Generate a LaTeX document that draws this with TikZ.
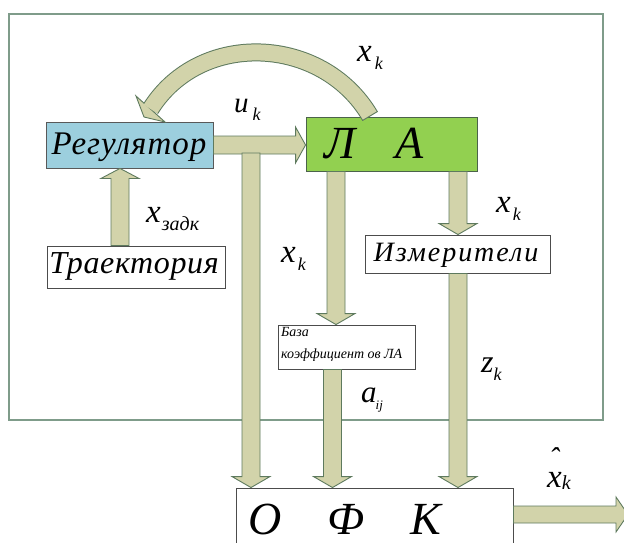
\documentclass[tikz,border=0pt]{standalone}
\usepackage{fontspec}
\setmainfont{Liberation Serif}[ItalicFont={Liberation Serif Italic}]
\usetikzlibrary{calc}
\definecolor{arrowfill}{HTML}{D2D3AA}
\definecolor{arrowline}{HTML}{5E7A5E}
\definecolor{framecol}{HTML}{7F9C8A}
\definecolor{regfill}{HTML}{9CCFDE}
\definecolor{lafill}{HTML}{92D050}
\tikzset{
  blockarrow/.style={fill=arrowfill, draw=arrowline, line width=0.9pt, line join=miter},
  boxbase/.style={line width=0.9pt, inner sep=0pt, font=\itshape},
  whitebox/.style={boxbase, draw=black!70, fill=white},
  regbox/.style={boxbase, draw=black!65, fill=regfill},
  labox/.style={boxbase, draw=arrowline!80!black, fill=lafill},
  txt/.style={inner sep=0pt, font=\itshape},
  lab/.style={inner sep=0pt, anchor=base west, font=\itshape},
}
% vertical block arrows: #1 x centre, #2 from, #3 to
\newcommand\downblock[3]{\path[blockarrow] let \p1=(#2), \p2=(#3) in
  (#1pt-9pt,\y1) -- (#1pt+9pt,\y1) -- (#1pt+9pt,\y2+11pt) -- (#1pt+19pt,\y2+11pt)
  -- (#1pt,\y2) -- (#1pt-19pt,\y2+11pt) -- (#1pt-9pt,\y2+11pt) -- cycle;}
\newcommand\upblock[3]{\path[blockarrow] let \p1=(#2), \p2=(#3) in
  (#1pt-9pt,\y1) -- (#1pt+9pt,\y1) -- (#1pt+9pt,\y2-10pt) -- (#1pt+19pt,\y2-10pt)
  -- (#1pt,\y2) -- (#1pt-19pt,\y2-10pt) -- (#1pt-9pt,\y2-10pt) -- cycle;}
% horizontal: #1 y centre (px, down), #2 from, #3 to, #4 half shaft, #5 half head, #6 head length
\newcommand\rightblock[6]{\path[blockarrow] let \p1=(#2), \p2=(#3) in
  (\x1,-#1pt+#4pt) -- (\x2-#6pt,-#1pt+#4pt) -- (\x2-#6pt,-#1pt+#5pt) -- (\x2,-#1pt)
  -- (\x2-#6pt,-#1pt-#5pt) -- (\x2-#6pt,-#1pt-#4pt) -- (\x1,-#1pt-#4pt) -- cycle;}
\newcommand\xlab[5]{{\fontsize{#1}{#1}\selectfont #2}\kern#5pt\raisebox{-8pt}{\fontsize{#3}{#3}\selectfont #4}}
\begin{document}
\begin{tikzpicture}[x=1pt,y=-1pt]
\useasboundingbox (0,0) rectangle (624,543);
\fill[white] (0,0) rectangle (624,543);
% frame
\node[draw=framecol, line width=1.6pt, minimum width=594, minimum height=406, inner sep=0pt] (frame) at (306,217) {};
% boxes
\node[regbox, minimum width=167, minimum height=46] (reg) at (129.5,145) {};
\node[labox, minimum width=171, minimum height=54] (la) at (391.5,144) {};
\node[whitebox, minimum width=178, minimum height=42] (traj) at (136,267) {};
\node[whitebox, minimum width=185, minimum height=38] (izm) at (457.5,254) {};
\node[whitebox, minimum width=137, minimum height=44] (baza) at (346.5,347) {};
\node[whitebox, minimum width=277, minimum height=82] (ofk) at (374.5,529) {};
% texts in boxes
\node[txt, anchor=base] (regt) at (129,154) {\fontsize{33}{33}\selectfont\addfontfeature{LetterSpace=3}Регулятор};
\node[txt, anchor=base] (trajt) at (134,273) {\fontsize{32}{32}\selectfont\addfontfeature{LetterSpace=2}Траектория};
\node[txt, anchor=base] (izmt) at (456,261) {\fontsize{28}{28}\selectfont\addfontfeature{LetterSpace=7}Измерители};
\node[txt, anchor=base west] (lat) at (324,158) {\fontsize{46}{46}\selectfont Л\kern40pt А};
\node[inner sep=0pt, anchor=north west, align=left, font={\itshape\fontsize{14}{22}\selectfont}] (bazat) at (281,327) {База\\коэффициент ов ЛА};
\node[txt, anchor=base west] (ofkt) at (248,534) {\fontsize{46}{46}\selectfont О\kern46pt Ф\kern46pt К};
% arrows
\upblock{120}{traj.north}{reg.south}
\rightblock{145}{reg.east}{la.west}{9}{18}{10}
\coordinate (split) at (251,153);
\downblock{251}{split}{ofk.north}
\downblock{336}{la.south}{baza.north}
\downblock{332.5}{baza.south}{ofk.north}
\downblock{458}{la.south}{izm.north}
\downblock{458}{izm.south}{ofk.north}
\coordinate (out) at (628,514.5);
\rightblock{514.5}{ofk.east}{out}{8.5}{17.5}{12}
% feedback arc
\coordinate (fbs) at (370,116);
\coordinate (fbe) at (150.5,109);
\draw[arrowline, line width=18pt] (fbs) .. controls (322,35) and (200,30) .. (fbe);
\path[blockarrow] (136,96) -- (165,122) -- (144,117) -- cycle;
\draw[arrowfill, line width=16pt] (fbs) .. controls (322,35) and (200,30) .. (fbe);
\draw[arrowline, line width=0.9pt] (377.7,111.4) -- (362.3,120.6);
% labels
\node[lab] (lxk1) at (357,62) {\xlab{33}{x}{18}{k}{3}};
\node[lab] (luk) at (234,113) {\xlab{29}{u}{18}{k}{4}};
\node[lab] (lxz) at (146,222) {\xlab{33}{x}{20}{задк}{1}};
\node[lab] (lxk2) at (281,262) {\xlab{33}{x}{18}{k}{2}};
\node[lab] (lxk3) at (496,212) {\xlab{33}{x}{18}{k}{2}};
\node[lab] (lzk) at (481,372) {\xlab{32}{z}{18}{k}{0}};
\node[lab] (laij) at (361,402) {{\fontsize{31}{31}\selectfont a}\kern-1pt\raisebox{-7pt}{\fontsize{13}{13}\selectfont ij}};
\node[lab] (lhat) at (547,487) {{\fontsize{33}{33}\selectfont x}\raisebox{-2pt}{\fontsize{20}{20}\selectfont k}};
\node[lab] (hat) at (549,468) {\fontsize{30}{30}\selectfont ˆ};
\end{tikzpicture}
\end{document}
